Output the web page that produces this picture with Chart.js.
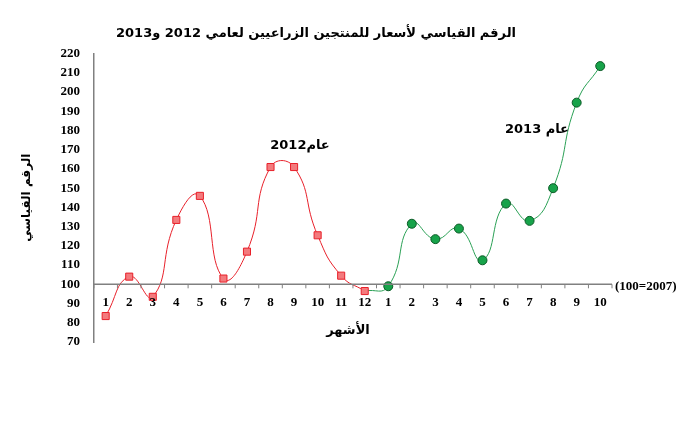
<!DOCTYPE html>
<html><head><meta charset="utf-8">
<script src="https://cdn.jsdelivr.net/npm/chart.js@4"></script>
<style>body{margin:0;background:#fff}#wrap{width:695px;height:432px}</style>
</head><body><div id="wrap"><canvas id="myChart"></canvas></div>
<script>
"use strict";
const months = ['1','2','3','4','5','6','7','8','9','10','11','12','1','2','3','4','5','6','7','8','9','10'];
const values2012 = [83.5, 104, 93.5, 133.5, 146, 103, 117, 161, 161, 125.5, 104.5, 96.5];
const values2013 = [99, 131.5, 123.5, 129, 112.5, 142, 133, 150, 194.5, 213.5];
const yTicks = [70, 220, 10];
const serif = '"Liberation Serif", "DejaVu Serif", serif';

let data2012 = months.map((m, i) => i < 12 ? values2012[i] : null);
// 2013 line starts from the last 2012 point, with no marker there
let data2013 = months.map((m, i) => i >= 12 ? values2013[i - 12] : (i === 11 ? values2012[11] : null));
let radius2013 = months.map((m, i) => i >= 12 ? 4.5 : 0);

// x axis drawn along the 100 line, plus the text notes
const overlay = {
  id: 'overlay',
  afterDraw(chart) {
    const ctx = chart.ctx, x = chart.scales.x, y = chart.scales.y;
    const y100 = y.getPixelForValue(100);
    const step = x.getPixelForValue(1) - x.getPixelForValue(0);
    ctx.save();
    ctx.strokeStyle = '#808080';
    ctx.lineWidth = 1.5;
    ctx.beginPath();
    ctx.moveTo(chart.chartArea.left, y100);
    ctx.lineTo(chart.chartArea.right, y100);
    ctx.stroke();
    ctx.lineWidth = 1;
    for (let i = 0; i <= months.length; i++) {
      const px = x.getPixelForValue(i) - step / 2;
      ctx.beginPath(); ctx.moveTo(px, y100); ctx.lineTo(px, y100 + 4); ctx.stroke();
    }
    ctx.fillStyle = '#000';
    ctx.font = 'bold 13px ' + serif;
    ctx.textAlign = 'center';
    ctx.textBaseline = 'middle';
    months.forEach((m, i) => ctx.fillText(m, x.getPixelForValue(i), y100 + 18));
    ctx.textAlign = 'left';
    ctx.fillText('(100=2007)', chart.chartArea.right + 3, y100 + 2);
    ctx.textAlign = 'center';
    ctx.font = 'bold 13px "DejaVu Sans", ' + serif;
    ctx.fillText('الأشهر', 348, 331);
    ctx.fillText('عام2012', 300, 146);
    ctx.fillText('عام 2013', 537, 130);
    ctx.restore();
  }
};

new Chart(document.getElementById('myChart'), {
  type: 'line',
  data: {
    labels: months,
    datasets: [{
      data: data2012,
      borderColor: '#e8202a', borderWidth: 1,
      backgroundColor: '#f37a7d',
      pointStyle: 'rect', pointRadius: 5, pointBorderColor: '#e8202a',
      tension: 0.5
    }, {
      data: data2013,
      borderColor: '#2aa055', borderWidth: 1,
      backgroundColor: '#17a34a',
      pointStyle: 'circle', pointRadius: radius2013, pointBorderColor: '#0b5a26',
      tension: 0.5
    }]
  },
  options: {
    responsive: true, maintainAspectRatio: false, animation: false,
    layout: { padding: { left: 20, right: 83, top: 0, bottom: 82 } },
    plugins: {
      legend: { display: false },
      tooltip: { enabled: false },
      title: {
        display: true,
        text: 'الرقم القياسي لأسعار للمنتجين الزراعيين لعامي 2012 و2013',
        color: '#000', font: { family: '"DejaVu Sans", ' + serif, size: 13, weight: 'bold' },
        padding: { top: 26, bottom: 12 }
      }
    },
    scales: {
      x: { offset: true, grid: { display: false }, border: { display: false }, ticks: { display: false } },
      y: {
        min: yTicks[0], max: yTicks[1],
        grid: { display: false },
        border: { display: true, color: '#808080', width: 1.5 },
        ticks: { stepSize: yTicks[2], color: '#000', font: { family: serif, size: 13, weight: 'bold' }, padding: 6 },
        title: {
          display: true, text: 'الرقم القياسي', color: '#000',
          font: { family: '"DejaVu Sans", ' + serif, size: 12, weight: 'bold' },
          padding: { top: 0, bottom: 20 }
        }
      }
    }
  },
  plugins: [overlay]
});
</script></body></html>
